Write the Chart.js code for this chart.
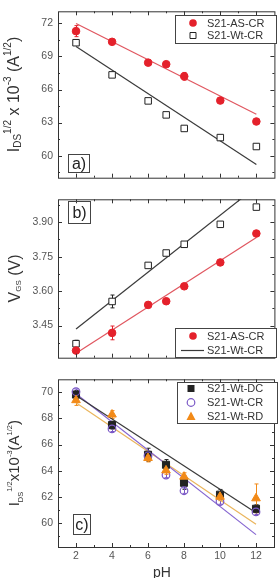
<!DOCTYPE html>
<html><head><meta charset="utf-8">
<script src="https://cdn.jsdelivr.net/npm/chart.js@4.4.1/dist/chart.umd.min.js"></script>
<style>
html,body{margin:0;padding:0;background:#fff;width:280px;height:578px;overflow:hidden}
.p{position:absolute;left:0;width:280px}
</style></head><body>
<div class="p" style="top:0;height:189px"><canvas id="ca"></canvas></div>
<div class="p" style="top:188px;height:181px"><canvas id="cb"></canvas></div>
<div class="p" style="top:368px;height:210px"><canvas id="cc"></canvas></div>
<script>
// ---------- data ----------
const PH = [2, 4, 6, 7, 8, 10, 12];
const FIT_X = [2, 12];
const X_TICKS = [2, 4, 6, 8, 10, 12];

const A_Y_TICKS = [60, 63, 66, 69, 72];
const A_AS_CR = [71.3, 70.33, 68.44, 68.3, 67.2, 65.0, 63.1];
const A_AS_CR_ERR = [0.5, 0.1, 0.1, 0.1, 0.35, 0.1, 0.1];
const A_WT_CR = [70.25, 67.33, 64.97, 63.7, 62.47, 61.64, 60.83];
const A_FIT_AS = [72.0, 63.75];
const A_FIT_WT = [69.9, 59.2];

const B_Y_TICKS = [3.45, 3.60, 3.75, 3.90];
const B_AS_CR = [3.341, 3.418, 3.540, 3.556, 3.621, 3.725, 3.851];
const B_AS_CR_ERR = [0.012, 0.03, 0.008, 0.012, 0.008, 0.006, 0.01];
const B_WT_CR = [3.371, 3.555, 3.712, 3.766, 3.804, 3.891, 3.966];
const B_WT_CR_ERR = [0.015, 0.028, 0.006, 0.01, 0.008, 0.006, 0.008];
const B_FIT_AS = [3.329, 3.834];
const B_FIT_WT = [3.435, 4.055];

const C_Y_TICKS = [60, 62, 64, 66, 68, 70];
const C_DC = [69.83, 67.49, 65.22, 64.45, 63.07, 62.16, 61.08];
const C_DC_ERR = [0.3, 0.3, 0.5, 0.4, 0.5, 0.4, 0.3];
const C_CR = [70.05, 67.2, 65.14, 63.66, 62.46, 61.63, 60.84];
const C_CR_ERR = [0.2, 0.2, 0.2, 0.2, 0.2, 0.2, 0.2];
const C_RD = [69.4, 68.3, 64.97, 64.02, 63.54, 62.0, 61.88];
const C_RD_ERR = [0.4, 0.3, 0.3, 0.3, 0.3, 0.3, 1.1];
const C_FIT_DC = [69.76, 60.77];
const C_FIT_CR = [69.9, 59.1];
const C_FIT_RD = [69.2, 59.9];

// ---------- styles ----------
const RED = '#e4212b', RED_LINE = '#e0565f', BLK = '#222', BLK_LINE = '#3a3a3a';
const PUR = '#7a58c6', PUR_LINE = '#8464d0', ORA = '#f28a18', ORA_LINE = '#eab55c';
const FONT = "Arial, 'Liberation Sans', sans-serif";

const pts = (xs, ys) => xs.map((x, i) => ({x: x, y: ys[i]}));

function pointDs(data, style, color, radius, fill, bw) {
  return {data: pts(PH, data), showLine: false, pointStyle: style, pointRadius: radius,
    pointBorderColor: color, pointBackgroundColor: fill, pointBorderWidth: bw || 1};
}
function lineDs(data, color) {
  return {data: pts(FIT_X, data), showLine: true, pointRadius: 0, borderColor: color,
    borderWidth: 1.2, clip: 0};
}

function drawMarker(ctx, kind, x, y, color) {
  ctx.save();
  ctx.lineWidth = 1;
  ctx.strokeStyle = color; ctx.fillStyle = color;
  ctx.beginPath();
  if (kind === 'dot') { ctx.arc(x, y, 3.8, 0, Math.PI * 2); ctx.fill(); }
  else if (kind === 'hsq') { ctx.rect(x - 3, y - 3, 6, 6); ctx.stroke(); }
  else if (kind === 'fsq') { ctx.rect(x - 3.5, y - 3.5, 7, 7); ctx.fill(); }
  else if (kind === 'hci') { ctx.lineWidth = 1.2; ctx.arc(x, y, 3.8, 0, Math.PI * 2); ctx.stroke(); }
  else if (kind === 'tri') { ctx.moveTo(x, y - 5); ctx.lineTo(x + 4.5, y + 3.5); ctx.lineTo(x - 4.5, y + 3.5); ctx.closePath(); ctx.fill(); }
  else if (kind === 'line') { ctx.lineWidth = 1.2; ctx.moveTo(x - 12, y + 0.5); ctx.lineTo(x + 11, y + 0.5); ctx.stroke(); }
  ctx.restore();
}

function drawRich(ctx, segs, baseX, cy) {
  ctx.save();
  ctx.translate(baseX, cy);
  ctx.rotate(-Math.PI / 2);
  ctx.fillStyle = '#333';
  ctx.textBaseline = 'alphabetic';
  ctx.textAlign = 'left';
  let total = 0;
  segs.forEach(s => { ctx.font = s.s + 'px ' + FONT; total += ctx.measureText(s.t).width; });
  let pos = -total / 2;
  segs.forEach(s => { ctx.font = s.s + 'px ' + FONT; ctx.fillText(s.t, pos, s.dy || 0); pos += ctx.measureText(s.t).width; });
  ctx.restore();
}

function panelPlugin(cfg) {
  return {
    id: 'panel_' + cfg.id,
    beforeDatasetsDraw(chart) {
      const ctx = chart.ctx, xs = chart.scales.x, ys = chart.scales.y;
      ctx.save();
      (cfg.errors || []).forEach(e => {
        ctx.strokeStyle = e.color; ctx.lineWidth = 1;
        e.err.forEach((d, i) => {
          if (!d) return;
          const px = Math.round(xs.getPixelForValue(PH[i])) + 0.5;
          const y1 = ys.getPixelForValue(e.vals[i] + d), y2 = ys.getPixelForValue(e.vals[i] - d);
          ctx.beginPath();
          ctx.moveTo(px, y1); ctx.lineTo(px, y2);
          ctx.moveTo(px - 2, y1); ctx.lineTo(px + 2, y1);
          ctx.moveTo(px - 2, y2); ctx.lineTo(px + 2, y2);
          ctx.stroke();
        });
      });
      ctx.restore();
    },
    afterDraw(chart) {
      const ctx = chart.ctx, a = chart.chartArea, xs = chart.scales.x, ys = chart.scales.y;
      ctx.save();
      ctx.strokeStyle = '#333'; ctx.lineWidth = 1;
      // frame
      ctx.strokeRect(a.left + 0.5, a.top + 0.5, a.right - a.left, a.bottom - a.top);
      // x ticks (inward, top and bottom)
      ctx.beginPath();
      const xMinor = [];
      for (let i = 0; i < X_TICKS.length - 1; i++) xMinor.push((X_TICKS[i] + X_TICKS[i + 1]) / 2);
      const xt = X_TICKS.map(v => [v, 4]).concat(xMinor.map(v => [v, 2]));
      xt.forEach(([v, L]) => {
        const px = Math.round(xs.getPixelForValue(v)) + 0.5;
        ctx.moveTo(px, a.top); ctx.lineTo(px, a.top + L);
        ctx.moveTo(px, a.bottom); ctx.lineTo(px, a.bottom - L);
      });
      // y ticks
      const yt = cfg.yTicks, step = yt[1] - yt[0];
      const yMinor = [];
      yt.forEach(t => { [t - step / 2, t + step / 2].forEach(m => { if (m > ys.min && m < ys.max && yMinor.indexOf(m) < 0) yMinor.push(m); }); });
      yt.map(v => [v, 4]).concat(yMinor.map(v => [v, 2])).forEach(([v, L]) => {
        const py = Math.round(ys.getPixelForValue(v)) + 0.5;
        ctx.moveTo(a.left, py); ctx.lineTo(a.left + L, py);
        ctx.moveTo(a.right, py); ctx.lineTo(a.right - L, py);
      });
      ctx.stroke();
      // legend box
      const lg = cfg.legend;
      ctx.fillStyle = '#fff';
      ctx.fillRect(lg.x, lg.y, lg.w, lg.h);
      ctx.strokeStyle = '#444';
      ctx.strokeRect(lg.x + 0.5, lg.y + 0.5, lg.w, lg.h);
      ctx.font = '11px ' + FONT;
      ctx.textBaseline = 'middle'; ctx.textAlign = 'left';
      lg.items.forEach((it, i) => {
        const yy = lg.row0 + i * lg.dy;
        drawMarker(ctx, it.m, lg.mx, yy, it.c);
        ctx.fillStyle = '#333';
        ctx.fillText(it.t, lg.tx, yy + 0.5);
      });
      // panel label
      const pl = cfg.label;
      ctx.strokeStyle = '#444';
      ctx.strokeRect(pl.x + 0.5, pl.y + 0.5, pl.w, pl.h);
      ctx.fillStyle = '#222';
      ctx.font = '16px ' + FONT;
      ctx.textAlign = 'center';
      ctx.fillText(pl.t, pl.x + pl.w / 2 + 0.5, pl.y + pl.h / 2 + 1.5);
      // y title
      drawRich(ctx, cfg.title, cfg.titleX, (a.top + a.bottom) / 2);
      // x title
      if (cfg.xTitle) {
        ctx.fillStyle = '#333';
        ctx.font = '14px ' + FONT;
        ctx.textAlign = 'center'; ctx.textBaseline = 'middle';
        ctx.fillText(cfg.xTitle, 162, a.bottom + 26);
      }
      ctx.restore();
    }
  };
}

function makeChart(id, cfg) {
  const xScale = {
    type: 'linear', min: 1, max: 13, display: !!cfg.showX,
    grid: {display: false, drawTicks: false}, border: {display: false},
    afterBuildTicks: s => { s.ticks = X_TICKS.map(v => ({value: v})); },
    ticks: {padding: 3, color: '#555', font: {size: 10.5, family: FONT}}
  };
  if (cfg.showX) xScale.afterFit = s => { s.height = cfg.xHeight; };
  return new Chart(document.getElementById(id), {
    type: 'scatter',
    data: {datasets: cfg.datasets},
    options: {
      responsive: true, maintainAspectRatio: false, animation: false, events: [],
      layout: {padding: cfg.padding},
      plugins: {legend: {display: false}, tooltip: {enabled: false}},
      scales: {
        x: xScale,
        y: {
          type: 'linear', min: cfg.yMin, max: cfg.yMax,
          grid: {display: false, drawTicks: false}, border: {display: false},
          afterBuildTicks: s => { s.ticks = cfg.yTicks.map(v => ({value: v})); },
          afterFit: s => { s.width = 58; },
          ticks: {padding: 5, color: '#555', font: {size: 10.5, family: FONT},
            callback: v => cfg.dec ? Number(v).toFixed(cfg.dec) : String(v)}
        }
      }
    },
    plugins: [panelPlugin(cfg)]
  });
}

// ---------- panel a ----------
makeChart('ca', {
  id: 'a', yMin: 58, yMax: 73.1, yTicks: A_Y_TICKS,
  padding: {top: 7, right: 2, bottom: 1, left: 0},
  datasets: [
    pointDs(A_AS_CR, 'circle', RED, 3.8, RED),
    pointDs(A_WT_CR, 'rect', BLK, 4.6, '#fff'),
    lineDs(A_FIT_AS, RED_LINE),
    lineDs(A_FIT_WT, BLK_LINE)
  ],
  errors: [{vals: A_AS_CR, err: A_AS_CR_ERR, color: RED}],
  legend: {x: 175, y: 15, w: 101, h: 28, mx: 193, tx: 207, row0: 23, dy: 12.5,
    items: [{m: 'dot', c: RED, t: 'S21-AS-CR'}, {m: 'hsq', c: BLK, t: 'S21-Wt-CR'}]},
  label: {x: 68, y: 154, w: 21, h: 18, t: 'a)'},
  titleX: 18.5,
  title: [{t: 'I', s: 16}, {t: 'DS', s: 10, dy: 2}, {t: '1/2', s: 10, dy: -8}, {t: ' x 10', s: 16},
    {t: '-3', s: 10, dy: -8}, {t: ' (A', s: 16}, {t: '1/2', s: 10, dy: -8}, {t: ')', s: 16}]
});

// ---------- panel b ----------
makeChart('cb', {
  id: 'b', yMin: 3.31, yMax: 4.0, yTicks: B_Y_TICKS, dec: 2,
  padding: {top: 0, right: 2, bottom: 1, left: 0},
  datasets: [
    pointDs(B_AS_CR, 'circle', RED, 3.8, RED),
    pointDs(B_WT_CR, 'rect', BLK, 4.6, '#fff'),
    lineDs(B_FIT_AS, RED_LINE),
    lineDs(B_FIT_WT, BLK_LINE)
  ],
  errors: [{vals: B_AS_CR, err: B_AS_CR_ERR, color: RED}, {vals: B_WT_CR, err: B_WT_CR_ERR, color: BLK}],
  legend: {x: 175, y: 140, w: 101, h: 29, mx: 193, tx: 207, row0: 148, dy: 14,
    items: [{m: 'dot', c: RED, t: 'S21-AS-CR'}, {m: 'line', c: BLK_LINE, t: 'S21-Wt-CR'}]},
  label: {x: 68, y: 13, w: 22, h: 22, t: 'b)'},
  titleX: 19.5,
  title: [{t: 'V', s: 16}, {t: 'GS', s: 8, dy: 1}, {t: ' (V)', s: 16}]
});

// ---------- panel c ----------
makeChart('cc', {
  id: 'c', yMin: 58.15, yMax: 71, yTicks: C_Y_TICKS, showX: true, xHeight: 31,
  padding: {top: 0, right: 2, bottom: 0, left: 0},
  datasets: [
    pointDs(C_RD, 'triangle', ORA, 5, ORA),
    pointDs(C_CR, 'circle', PUR, 3.8, 'rgba(255,255,255,0)', 1.2),
    pointDs(C_DC, 'rect', BLK, 5, BLK),
    lineDs(C_FIT_DC, BLK_LINE),
    lineDs(C_FIT_CR, PUR_LINE),
    lineDs(C_FIT_RD, ORA_LINE)
  ],
  errors: [{vals: C_DC, err: C_DC_ERR, color: BLK}, {vals: C_CR, err: C_CR_ERR, color: PUR},
    {vals: C_RD, err: C_RD_ERR, color: ORA}],
  legend: {x: 177, y: 14, w: 100, h: 41, mx: 191, tx: 207, row0: 20.5, dy: 14,
    items: [{m: 'fsq', c: BLK, t: 'S21-Wt-DC'}, {m: 'hci', c: PUR, t: 'S21-Wt-CR'}, {m: 'tri', c: ORA, t: 'S21-Wt-RD'}]},
  label: {x: 73, y: 146, w: 17, h: 20, t: 'c)'},
  titleX: 18.5,
  xTitle: 'pH',
  title: [{t: 'I', s: 15}, {t: 'DS', s: 7.5, dy: 4}, {t: '1/2', s: 7.5, dy: -7}, {t: 'x10', s: 15},
    {t: '-3', s: 7.5, dy: -7}, {t: '(A', s: 15}, {t: '1/2', s: 7.5, dy: -7}, {t: ')', s: 15}]
});
</script>
</body></html>
